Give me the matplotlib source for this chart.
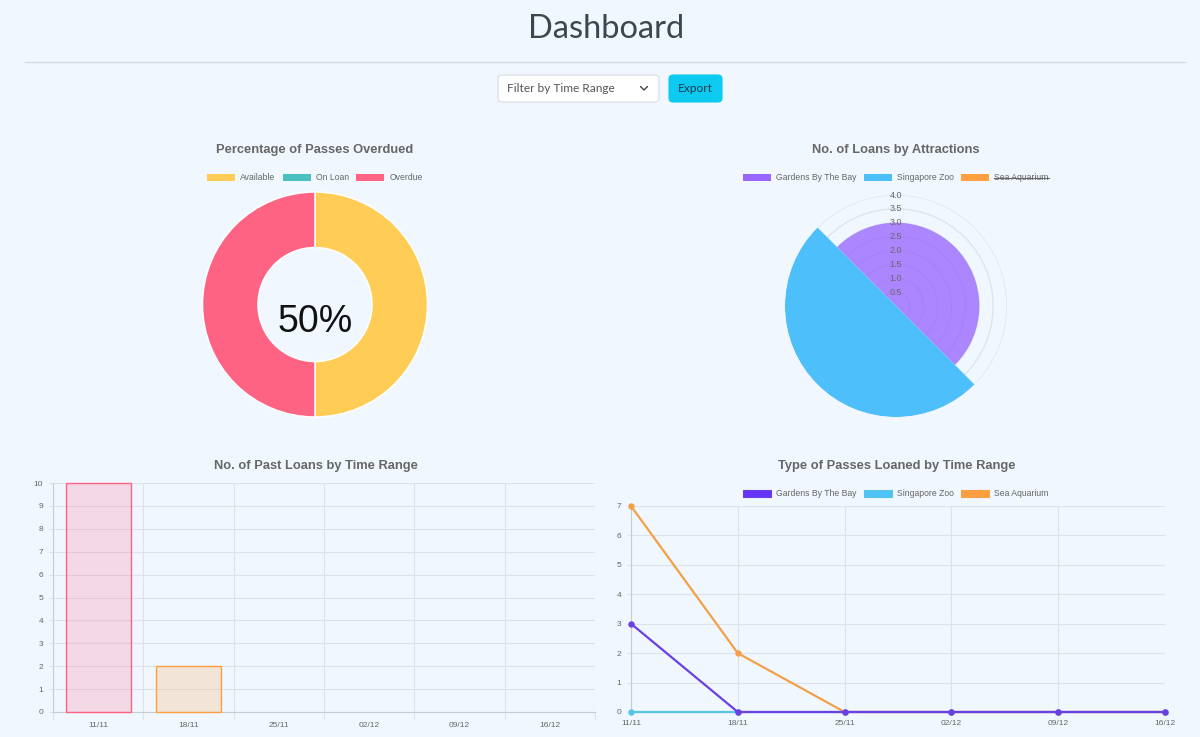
import matplotlib
matplotlib.use('Agg')
import matplotlib.pyplot as plt
from matplotlib.patches import Patch, FancyBboxPatch
from matplotlib.lines import Line2D
from matplotlib.colors import to_rgba
import numpy as np

# ---------------- data ----------------
page_title = 'Dashboard'
filter_label = 'Filter by Time Range'
export_label = 'Export'

donut_title = 'Percentage of Passes Overdued'
donut_labels = ['Available', 'On Loan', 'Overdue']
donut_values = [1, 0, 1]
donut_colors = ['#FFCD56', '#4BC0C0', '#FF6384']

polar_title = 'No. of Loans by Attractions'
polar_labels = ['Gardens By The Bay', 'Singapore Zoo', 'Sea Aquarium']
polar_values = [3, 4, 2]
polar_hidden = [False, False, True]
polar_colors = ['#9966FF', '#4DBFFA', '#FF9F40']
polar_ticks = [0.5, 1.0, 1.5, 2.0, 2.5, 3.0, 3.5, 4.0]

bar_title = 'No. of Past Loans by Time Range'
weeks = ['11/11', '18/11', '25/11', '02/12', '09/12', '16/12']
bar_values = [10, 2, 0, 0, 0, 0]
bar_colors = ['#FF6384', '#FF9F40', '#FFCD56', '#4BC0C0', '#36A2EB', '#9966FF']
bar_yticks = [0, 1, 2, 3, 4, 5, 6, 7, 8, 9, 10]

line_title = 'Type of Passes Loaned by Time Range'
line_labels = ['Gardens By The Bay', 'Singapore Zoo', 'Sea Aquarium']
gardens_values = [3, 0, 0, 0, 0, 0]
zoo_values = [0, 0, 0, 0, 0, 0]
sea_values = [7, 2, 0, 0, 0, 0]
line_legend_colors = ['#6633FF', '#4FC3F7', '#FF9F40']
line_colors = ['#6B40E3', '#56C6E6', '#F2A04A']
line_yticks = [0, 1, 2, 3, 4, 5, 6, 7]

# ---------------- style ----------------
W, H = 1200, 737
DPI = 100
BG = '#F0F7FE'
GRID = '#DDE3EA'
SPINE = '#C5CBD2'
TXT = '#666666'
FONT = 'Liberation Sans'
TICK = 6.0

plt.rcParams['font.family'] = [FONT, 'DejaVu Sans']

fig = plt.figure(figsize=(W / DPI, H / DPI), dpi=DPI, facecolor=BG)


def px_box(x0, y0, x1, y1):
    return [x0 / W, 1 - y1 / H, (x1 - x0) / W, (y1 - y0) / H]


def fxy(x, y):
    return (x / W, 1 - y / H)


# ---------------- header overlay ----------------
ov = fig.add_axes([0, 0, 1, 1])
ov.set_xlim(0, W)
ov.set_ylim(H, 0)
ov.axis('off')
ov.patch.set_alpha(0)

ov.text(606, 29, page_title, ha='center', va='center', fontsize=23.5, fontweight='normal',
        family=['Lato', 'DejaVu Sans'], color='#3C4750')
ov.plot([25, 1185], [62, 62], color='#D3DAE1', lw=1.0)

ov.add_patch(FancyBboxPatch((498, 75), 161, 27, boxstyle='round,pad=0,rounding_size=4',
                            facecolor='white', edgecolor='#D6DCE2', lw=0.8))
ov.text(507, 88.5, filter_label, ha='left', va='center', fontsize=8.6,
        family=['Lato', 'DejaVu Sans'], color='#555555')
ov.plot([640.5, 644, 647.5], [86.5, 90, 86.5], color='#444444', lw=1.0,
        solid_capstyle='round', solid_joinstyle='round')

ov.add_patch(FancyBboxPatch((669, 75), 53, 27, boxstyle='round,pad=0,rounding_size=4',
                            facecolor='#0DCAF0', edgecolor='#0DCAF0', lw=0.8))
ov.text(695.5, 88.5, export_label, ha='center', va='center', fontsize=8.6,
        family=['Lato', 'DejaVu Sans'], color='#1D3B4D')


def chart_title(cx, cy, s):
    fig.text(*fxy(cx, cy), s, ha='center', va='center', fontsize=9.3,
             fontweight='bold', color=TXT, family=FONT)


def legend(cx, cy, handles, labels):
    return fig.legend(handles, labels, loc='center', bbox_to_anchor=fxy(cx, cy),
                      ncol=len(labels), frameon=False, fontsize=6.25,
                      handlelength=3.2, handleheight=0.9, handletextpad=0.6,
                      columnspacing=0.85, labelcolor=TXT, borderpad=0)


# ---------------- donut ----------------
chart_title(315, 150.5, donut_title)
legend(315, 178, [Patch(facecolor=c, edgecolor='none') for c in donut_colors], donut_labels)

dcx, dcy, dh = 315, 304.5, 120
axd = fig.add_axes(px_box(dcx - dh, dcy - dh, dcx + dh, dcy + dh))
axd.pie(donut_values, colors=donut_colors, startangle=90, counterclock=False,
        radius=112.5, wedgeprops=dict(width=55.5, edgecolor='white', linewidth=1.1))
axd.set_xlim(-dh, dh)
axd.set_ylim(-dh, dh)
axd.set_aspect('auto')
axd.axis('off')
pct = round(100 * donut_values[2] / sum(donut_values))
axd.text(0, -17, f'{pct}%', ha='center', va='center', fontsize=27, color='#111111', family=FONT)

# ---------------- polar area ----------------
chart_title(896, 150.5, polar_title)
lg_p = legend(896, 178, [Patch(facecolor=c, edgecolor='none') for c in polar_colors], polar_labels)

pcx, pcy, pr = 896, 306, 111
axp = fig.add_axes(px_box(pcx - pr, pcy - pr, pcx + pr, pcy + pr), projection='polar')
axp.set_theta_zero_location('N')
axp.set_theta_direction(-1)
axp.patch.set_alpha(0)
axp.spines['polar'].set_visible(False)
vis = [i for i, h in enumerate(polar_hidden) if not h]
seg = 2 * np.pi / len(vis)
start = np.deg2rad(-45)
for k, i in enumerate(vis):
    alpha = 0.78 if i == 0 else 1.0
    axp.bar(start + seg * (k + 0.5), polar_values[i], width=seg, bottom=0,
            color=polar_colors[i], alpha=alpha, edgecolor='none', zorder=2)
axp.set_rlim(0, 4)
axp.set_xticks([])
axp.set_yticks(polar_ticks)
axp.set_yticklabels([])
axp.grid(True, axis='y', color=GRID, lw=0.9)
axp.set_axisbelow(True)
for t in polar_ticks:
    axp.text(0, t, f'{t:.1f}', ha='center', va='center', fontsize=6.4, color=TXT,
             family=FONT, zorder=5)

# ---------------- bar chart ----------------
chart_title(316, 466.5, bar_title)
axb = fig.add_axes(px_box(53, 483, 595, 712))
axb.patch.set_alpha(0)
xb = np.arange(len(weeks))
axb.bar(xb, bar_values, width=0.72, color=[to_rgba(c, 0.2) for c in bar_colors],
        edgecolor=bar_colors, linewidth=[1.0 if v > 0 else 0 for v in bar_values],
        zorder=3, clip_on=False)
axb.set_xlim(-0.5, len(weeks) - 0.5)
axb.set_ylim(0, 10)
axb.set_yticks(bar_yticks)
axb.set_xticks(xb)
axb.set_xticklabels(weeks)
axb.set_xticks(np.arange(len(weeks) + 1) - 0.5, minor=True)
axb.grid(True, axis='y', which='major', color=GRID, lw=0.8, zorder=0)
axb.grid(True, axis='x', which='minor', color=GRID, lw=0.8, zorder=0)
axb.tick_params(axis='x', which='major', length=0, pad=7, labelsize=TICK, labelcolor=TXT)
axb.tick_params(axis='x', which='minor', length=6, color=GRID, width=0.8)
axb.tick_params(axis='y', length=3, color=GRID, width=0.8, pad=4, labelsize=TICK, labelcolor=TXT)
for s in ['top', 'right']:
    axb.spines[s].set_visible(False)
for s in ['left', 'bottom']:
    axb.spines[s].set_color(SPINE)
    axb.spines[s].set_linewidth(0.8)
axb.set_axisbelow(True)

# ---------------- line chart ----------------
chart_title(897, 466.5, line_title)
legend(896, 494, [Patch(facecolor=c, edgecolor=e, lw=0.8) for c, e in zip(line_legend_colors, line_colors)],
       line_labels)
axl = fig.add_axes(px_box(631, 506, 1165, 712))
axl.patch.set_alpha(0)
xl = np.arange(len(weeks))
series = [gardens_values, zoo_values, sea_values]
zorders = [5, 4, 3]
for vals, col, z in zip(series, line_colors, zorders):
    axl.plot(xl, vals, color=col, lw=1.6, marker='o', markersize=3.6,
             markerfacecolor=col, markeredgecolor=col, zorder=z, clip_on=False)
axl.set_xlim(0, len(weeks) - 1)
axl.set_ylim(0, 7)
axl.set_yticks(line_yticks)
axl.set_xticks(xl)
axl.set_xticklabels(weeks)
axl.grid(True, color=GRID, lw=0.8, zorder=0)
axl.tick_params(axis='x', length=3, color=GRID, width=0.8, pad=3, labelsize=TICK, labelcolor=TXT)
axl.tick_params(axis='y', length=3, color=GRID, width=0.8, pad=4, labelsize=TICK, labelcolor=TXT)
for s in ['top', 'right']:
    axl.spines[s].set_visible(False)
for s in ['left', 'bottom']:
    axl.spines[s].set_color(SPINE)
    axl.spines[s].set_linewidth(0.8)
axl.set_axisbelow(True)

# ---------------- strikethrough for hidden legend entries ----------------
fig.canvas.draw()
renderer = fig.canvas.get_renderer()
inv = fig.transFigure.inverted()
for txt, hidden in zip(lg_p.get_texts(), polar_hidden):
    if hidden:
        bb = txt.get_window_extent(renderer)
        ym = (bb.y0 + bb.y1) / 2
        (x0, y0), (x1, y1) = inv.transform([(bb.x0, ym), (bb.x1, ym)])
        fig.add_artist(Line2D([x0, x1], [y0, y1], color=TXT, lw=0.8, transform=fig.transFigure))

fig.savefig('out.png', dpi=DPI, facecolor=BG)
